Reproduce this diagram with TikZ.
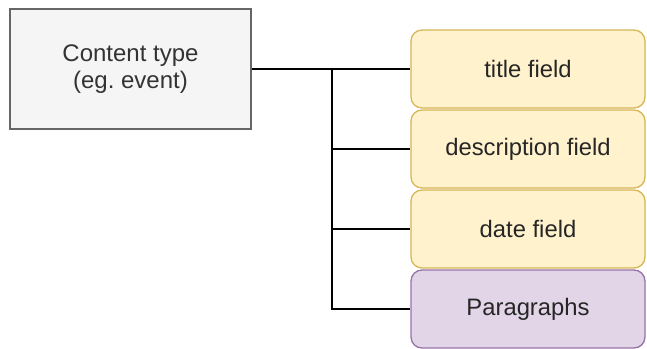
\documentclass[tikz,border=0pt]{standalone}
\usepackage{fontspec}
\setmainfont{Liberation Sans}
\frenchspacing
\definecolor{grayfill}{HTML}{F5F5F5}
\definecolor{graydraw}{HTML}{666666}
\definecolor{graytext}{HTML}{333333}
\definecolor{yelfill}{HTML}{FFF2CC}
\definecolor{yeldraw}{HTML}{D6B656}
\definecolor{purfill}{HTML}{E1D5E7}
\definecolor{purdraw}{HTML}{9673A6}
\begin{document}
\begin{tikzpicture}[x=1pt,y=-1pt,
  ctbox/.style={draw=graydraw,fill=grayfill,line width=1.3pt,minimum width=241pt,minimum height=120pt,align=center,text=graytext,font=\fontsize{24}{26.5}\selectfont},
  fieldbox/.style={draw=yeldraw,fill=yelfill,line width=1.3pt,rounded corners=11pt,minimum width=234pt,minimum height=78pt,font=\fontsize{23.8}{26}\selectfont,text=black!85},
  parbox/.style={fieldbox,draw=purdraw,fill=purfill},
  conn/.style={line width=1.5pt,black}]
\useasboundingbox (0,0) rectangle (647,348);
\node[ctbox] (ct) at (130.5,69) {Content type\\(eg. event)};
\node[fieldbox] (title) at (528,69) {title field};
\node[fieldbox] (desc) at (528,149) {description field};
\node[fieldbox] (date) at (528,229) {date field};
\node[parbox] (par) at (528,309) {Paragraphs};
\coordinate (j) at (332,69);
\draw[conn] (ct.east) -- (title.west);
\draw[conn] (j) |- (desc.west);
\draw[conn] (j) |- (date.west);
\draw[conn] (j) |- (par.west);
\end{tikzpicture}
\end{document}
